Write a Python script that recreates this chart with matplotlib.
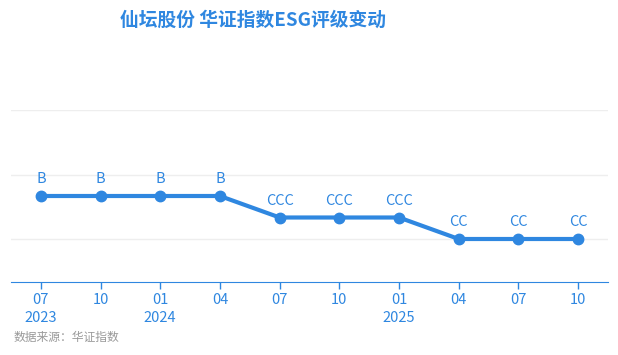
import matplotlib
matplotlib.use("Agg")
import matplotlib.pyplot as plt

plt.rcParams['font.family'] = ['Noto Sans CJK SC', 'DejaVu Sans']

periods = ["07\n2023", "10", "01\n2024", "04", "07", "10", "01\n2025", "04", "07", "10"]
ratings = ["B", "B", "B", "B", "CCC", "CCC", "CCC", "CC", "CC", "CC"]
rating_levels = {"CC": 1, "CCC": 2, "B": 3}
values = [rating_levels[r] for r in ratings]

blue = "#2f87e0"
W, H = 618, 355
fig = plt.figure(figsize=(W / 100, H / 100), dpi=100)
ax = fig.add_axes([11 / W, 1 - 282 / H, (608 - 11) / W, (282 - 110) / H])

x = list(range(len(periods)))
ax.plot(x, values, color=blue, lw=3, marker="o", ms=7.5, solid_joinstyle="round", zorder=3)
for xi, v, r in zip(x, values, ratings):
    ax.annotate(r, (xi, v), xytext=(0, 7), textcoords="offset points",
                ha="center", va="bottom", color=blue, fontsize=10.5)

ax.set_xlim(-0.5, len(periods) - 0.5)
ax.set_ylim(-1, 7)
ax.set_yticks([1, 4, 7])
ax.yaxis.grid(True, color="#eeeeee", lw=1)
ax.tick_params(axis="y", left=False, labelleft=False)
ax.set_xticks(x)
ax.set_xticklabels(periods, color=blue, fontsize=10.5, linespacing=1.35)
ax.tick_params(axis="x", colors=blue, length=5, width=1, pad=3)
for s in ["top", "left", "right"]:
    ax.spines[s].set_visible(False)
ax.spines["bottom"].set_color(blue)
ax.set_axisbelow(True)

fig.text(253 / W, 1 - 20 / H, "仙坛股份 华证指数ESG评级变动", ha="center", va="center",
         color=blue, fontsize=13.5, fontweight="bold")
fig.text(14 / W, 1 - 337 / H, "数据来源：华证指数", ha="left", va="center",
         color="#999999", fontsize=8.5)

fig.savefig("out.png", dpi=100)
